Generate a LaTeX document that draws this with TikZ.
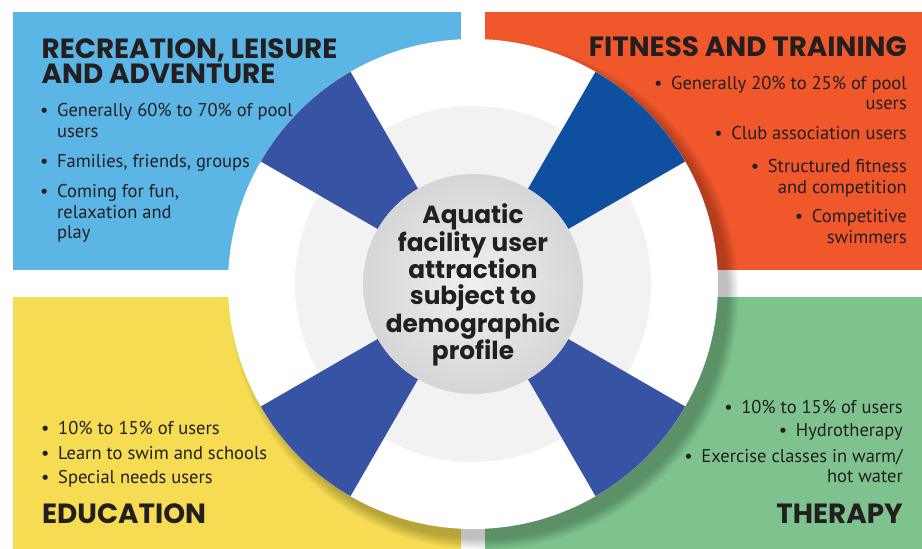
\documentclass[tikz,border=0pt]{standalone}
\usepackage{fontspec}
\setmainfont{PT Sans}
\newfontfamily\headfont{Poppins}
\definecolor{txt}{HTML}{231F20}
\definecolor{recblue}{HTML}{5BB6E5}
\definecolor{fitorange}{HTML}{F0572A}
\definecolor{eduyellow}{HTML}{F5DC52}
\definecolor{thergreen}{HTML}{7EC38D}
\definecolor{wedge}{HTML}{3753A4}
\definecolor{wedgedark}{HTML}{0E4FA0}
\definecolor{ringgray}{HTML}{F2F2F2}
\newcommand{\blt}{\makebox[17pt][l]{\textbullet}}
\tikzset{
  head/.style={font=\headfont\bfseries\fontsize{27.8}{25.7}\selectfont, text=txt, inner sep=0pt},
  body/.style={font=\fontsize{18.5}{20.5}\selectfont, text=txt, inner sep=0pt},
  hub/.style={font=\headfont\bfseries\fontsize{24.8}{26.4}\selectfont, text=txt, inner sep=0pt, align=center}
}
\begin{document}
\begin{tikzpicture}[x=1pt,y=1pt]
  \useasboundingbox (0,0) rectangle (922,549);
  \fill[white] (0,0) rectangle (922,549);
%--- Quatre panneaux
  \fill[recblue] (13,279) rectangle (461,537);
  \fill[fitorange] (485,279) rectangle (922,537);
  \fill[eduyellow] (13,0) rectangle (461,252);
  \fill[thergreen] (485,0) rectangle (922,252);
%--- Ombre de la bouee
  \foreach \i in {0,...,12}
    \fill[black, opacity=.018] (484,254) circle [radius={(244+0.9*\i)*1pt}];
%--- Bouee
  \coordinate (C) at (473,265);
  \fill[white] (C) circle (245pt);
  \fill[ringgray] (C) circle (178pt);
  \begin{scope}[shift={(C)}]
    \foreach \a/\c in {45/wedgedark, 135/wedge, 225/wedge, 315/wedge}
      \fill[\c] (\a-15:110pt) -- (\a-15:245pt)
        arc[start angle=\a-15, end angle=\a+15, radius=245pt]
        -- (\a+15:110pt)
        arc[start angle=\a+15, end angle=\a-15, radius=110pt] -- cycle;
  \end{scope}
  \shade[inner color=black!6, outer color=black!16] (C) circle (110pt);
  \node[hub, anchor=base] (hubtext) at (473,189)
    {Aquatic\\facility user\\attraction\\subject to\\demographic\\profile};
%--- Recreation
  \node[head, anchor=base west, align=left] (rechead) at (41.5,465)
    {RECREATION, LEISURE\\AND ADVENTURE};
  \node[body, anchor=base west, align=left] (recone) at (40,411.7)
    {\blt Generally 60\% to 70\% of pool\\\hphantom{\blt}users};
  \node[body, anchor=base west, align=left] (rectwo) at (40,381.3)
    {\blt Families, friends, groups};
  \node[body, anchor=base west, align=left] (recthree) at (40,310)
    {\blt Coming for fun,\\\hphantom{\blt}relaxation and\\\hphantom{\blt}play};
%--- Fitness
  \node[head, anchor=base east] (fithead) at (907,492.3) {FITNESS AND TRAINING};
  \node[body, anchor=base east, align=right] (fitone) at (907,439)
    {\blt Generally 20\% to 25\% of pool\\users};
  \node[body, anchor=base east, align=right] (fittwo) at (907,409)
    {\blt Club association users};
  \node[body, anchor=base east, align=right] (fitthree) at (907,355.7)
    {\blt Structured fitness\\and competition};
  \node[body, anchor=base east, align=right] (fitfour) at (907,305.7)
    {\blt Competitive\\swimmers};
%--- Education
  \node[body, anchor=base west] (eduone) at (41,114) {\blt 10\% to 15\% of users};
  \node[body, anchor=base west] (edutwo) at (41,89.7) {\blt Learn to swim and schools};
  \node[body, anchor=base west] (eduthree) at (41,65.7) {\blt Special needs users};
  \node[head, anchor=base west] (eduhead) at (42,25.7) {EDUCATION};
%--- Therapy
  \node[body, anchor=base east] (therone) at (903,135.7) {\blt 10\% to 15\% of users};
  \node[body, anchor=base east] (thertwo) at (903,112.3) {\blt Hydrotherapy};
  \node[body, anchor=base east, align=right] (therthree) at (903,66.3)
    {\blt Exercise classes in warm/\\hot water};
  \node[head, anchor=base east] (therhead) at (903,25.7) {THERAPY};
\end{tikzpicture}
\end{document}
